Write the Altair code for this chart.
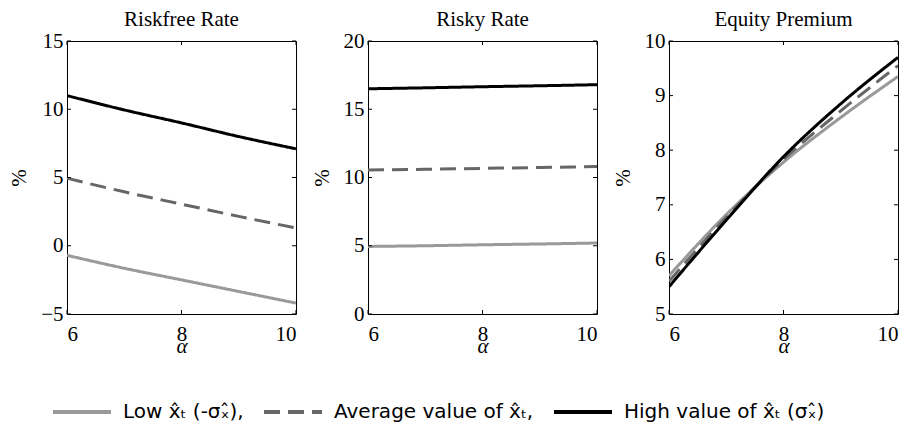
import altair as alt
import pandas as pd

alpha = [6, 7, 8, 9, 10]
series_names = ["Low x̂ₜ (-σₓ̂),", "Average value of x̂ₜ,", "High value of x̂ₜ (σₓ̂)"]
panel_titles = ["Riskfree Rate", "Risky Rate", "Equity Premium"]

rf_low = [-0.7, -1.65, -2.5, -3.35, -4.2]
rf_avg = [4.95, 3.95, 3.05, 2.15, 1.3]
rf_high = [11.0, 9.95, 9.0, 8.0, 7.1]

rr_low = [4.95, 5.0, 5.07, 5.13, 5.2]
rr_avg = [10.55, 10.6, 10.67, 10.73, 10.8]
rr_high = [16.5, 16.57, 16.65, 16.72, 16.8]

ep_low = [5.7, 6.82, 7.78, 8.6, 9.35]
ep_avg = [5.6, 6.77, 7.83, 8.72, 9.55]
ep_high = [5.5, 6.72, 7.88, 8.85, 9.7]

y_domains = [[-5, 15], [0, 20], [5, 10]]
y_ticks = [[-5, 0, 5, 10, 15], [0, 5, 10, 15, 20], [5, 6, 7, 8, 9, 10]]
x_ticks = [6, 8, 10]

line_colors = ["#999999", "#666666", "#000000"]
line_dashes = [[1, 0], [16, 8], [1, 0]]

panel_values = [
    [rf_low, rf_avg, rf_high],
    [rr_low, rr_avg, rr_high],
    [ep_low, ep_avg, ep_high],
]

W, H = 229, 273
TICK = 4


def panel(i):
    rows = []
    for k, (s, vals) in enumerate(zip(series_names, panel_values[i])):
        for a, v in zip(alpha, vals):
            rows.append({"alpha": a, "value": v, "series": s, "ord": k})
    df = pd.DataFrame(rows)

    xscale = alt.Scale(domain=[6, 10], nice=False, zero=False)
    yscale = alt.Scale(domain=y_domains[i], nice=False, zero=False)
    xaxis = alt.Axis(values=x_ticks, title="α", format="d")
    yaxis = alt.Axis(values=y_ticks[i], title="%", format="d")
    xenc = alt.X("alpha:Q", scale=xscale, axis=xaxis)
    yenc = alt.Y("value:Q", scale=yscale, axis=yaxis)

    lines = alt.Chart(df).mark_line(strokeWidth=3, clip=True, interpolate="monotone").encode(
        x=xenc,
        y=yenc,
        color=alt.Color(
            "series:N",
            sort=series_names,
            scale=alt.Scale(domain=series_names, range=line_colors),
            legend=alt.Legend(title=None),
        ),
        strokeDash=alt.StrokeDash(
            "series:N",
            sort=series_names,
            scale=alt.Scale(domain=series_names, range=line_dashes),
            legend=alt.Legend(title=None),
        ),
        order=alt.Order("ord:Q"),
    )

    xt = pd.DataFrame({"alpha": x_ticks})
    yt = pd.DataFrame({"value": y_ticks[i]})

    tick_style = dict(color="black", strokeWidth=1)
    xb = alt.Chart(xt).mark_rule(**tick_style).encode(x=xenc, y=alt.value(H), y2=alt.value(H - TICK))
    xtop = alt.Chart(xt).mark_rule(**tick_style).encode(x=xenc, y=alt.value(0), y2=alt.value(TICK))
    yl = alt.Chart(yt).mark_rule(**tick_style).encode(y=yenc, x=alt.value(0), x2=alt.value(TICK))
    yr = alt.Chart(yt).mark_rule(**tick_style).encode(y=yenc, x=alt.value(W), x2=alt.value(W - TICK))

    return alt.layer(lines, xb, xtop, yl, yr).properties(
        width=W,
        height=H,
        title=alt.TitleParams(
            panel_titles[i],
            font="Liberation Serif",
            fontSize=21,
            fontWeight="normal",
            color="black",
            offset=0,
        ),
    )


chart = alt.hconcat(panel(0), panel(1), panel(2), spacing=13).configure_view(
    stroke="black", strokeWidth=1
).configure_axis(
    grid=False,
    domain=False,
    ticks=False,
    tickSize=0,
    labelFont="Liberation Serif",
    labelFontSize=21,
    labelColor="black",
    titleFont="Liberation Serif",
    titleFontSize=21,
    titleFontWeight="normal",
    titleColor="black",
).configure_axisX(
    titleFontStyle="italic",
    titlePadding=-9,
    labelPadding=9,
).configure_axisY(
    titlePadding=11,
    labelPadding=4,
).configure_legend(
    orient="none",
    legendX=-16,
    legendY=340,
    padding=0,
    direction="horizontal",
    symbolType="stroke",
    symbolSize=3364,
    symbolStrokeWidth=4,
    labelFont="DejaVu Sans",
    labelFontSize=20,
    labelColor="black",
    labelLimit=0,
    labelOffset=10,
    columnPadding=12,
).properties(
    padding={"left": 0, "top": 0, "right": 0, "bottom": 0}
)

chart.save("out.html", embed_options={"renderer": "svg", "actions": False})
